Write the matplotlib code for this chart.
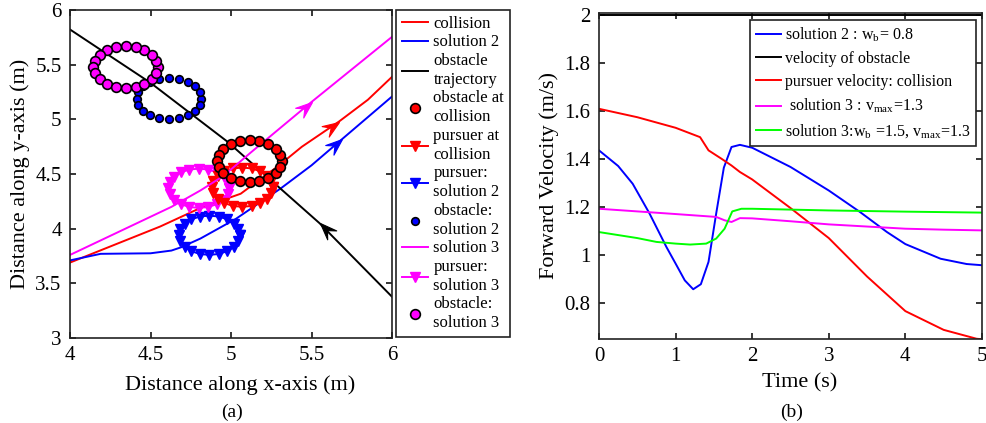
import matplotlib
matplotlib.use("Agg")
import matplotlib.pyplot as plt
from matplotlib.lines import Line2D
from matplotlib.markers import MarkerStyle
from matplotlib.path import Path
from matplotlib.transforms import Affine2D
import numpy as np

plt.rcParams['font.family'] = ['Liberation Serif', 'DejaVu Serif']
plt.rcParams['mathtext.fontset'] = 'stix'

# ---- (a) trajectories (points listed in direction of motion) ----
red_x = [4.0, 4.56, 4.81, 5.06, 5.29, 5.44, 5.67, 5.85, 6.0]
red_y = [3.69, 4.02, 4.19, 4.32, 4.57, 4.75, 4.98, 5.18, 5.39]
blue_x = [4.0, 4.19, 4.5, 4.63, 4.69, 4.81, 5.03, 5.31, 5.5, 5.69, 6.0]
blue_y = [3.71, 3.77, 3.775, 3.80, 3.83, 3.91, 4.09, 4.37, 4.58, 4.82, 5.21]
mag_x = [4.0, 4.63, 4.81, 4.95, 5.125, 5.5, 6.0]
mag_y = [3.76, 4.20, 4.35, 4.48, 4.70, 5.16, 5.756]
obs_x = [6.0, 5.55, 4.979, 4.5, 4.0]
obs_y = [3.377, 4.05, 4.795, 5.335, 5.823]

# index of the trajectory point where each arrow head sits
red_arrow = 6
blue_arrow = 9
mag_arrow = 5
obs_arrow = 1

# obstacle / pursuer bodies: centre x, centre y, radius x, radius y
obs_coll = (5.115, 4.62, 0.20, 0.19)
obs_sol2 = (4.615, 5.19, 0.20, 0.19)
obs_sol3 = (4.345, 5.48, 0.20, 0.19)
pur_coll = (5.07, 4.38, 0.19, 0.18)
pur_sol2 = (4.865, 3.94, 0.19, 0.18)
pur_sol3 = (4.80, 4.37, 0.19, 0.18)
n_ring = 20

# ---- (b) forward velocity ----
t_red = [0, 0.5, 1.0, 1.32, 1.43, 1.6, 1.73, 1.84, 2.0, 2.5, 3.0, 3.5, 4.0, 4.5, 4.93, 5.0]
v_red = [1.608, 1.573, 1.529, 1.49, 1.435, 1.40, 1.372, 1.345, 1.314, 1.195, 1.07, 0.91,
         0.766, 0.688, 0.651, 0.649]
t_blue = [0, 0.25, 0.44, 0.66, 0.88, 1.0, 1.12, 1.23, 1.33, 1.43, 1.53, 1.63, 1.73, 1.84,
          2.0, 2.5, 3.0, 3.41, 3.76, 4.0, 4.46, 4.8, 5.0]
v_blue = [1.435, 1.37, 1.296, 1.172, 1.033, 0.964, 0.894, 0.857, 0.878, 0.971, 1.172, 1.363,
          1.449, 1.458, 1.446, 1.366, 1.268, 1.178, 1.095, 1.045, 0.984, 0.962, 0.957]
t_mag = [0, 0.5, 1.0, 1.53, 1.64, 1.73, 1.84, 2.0, 2.5, 3.0, 3.5, 4.0, 4.5, 5.0]
v_mag = [1.192, 1.181, 1.170, 1.158, 1.144, 1.137, 1.153, 1.152, 1.140, 1.127, 1.118, 1.109,
         1.105, 1.102]
t_green = [0, 0.5, 0.75, 1.0, 1.19, 1.40, 1.53, 1.64, 1.74, 1.86, 2.0, 3.0, 4.0, 5.0]
v_green = [1.095, 1.07, 1.054, 1.047, 1.043, 1.047, 1.068, 1.109, 1.181, 1.192, 1.192, 1.185,
           1.18, 1.176]
t_obs = [0, 5]
v_obs = [2.0, 2.0]

magenta = '#ff00ff'
green = '#00ff00'
lw = 1.4

# barbed arrow head, tip at the origin pointing along +x
head = Path([(0, 0), (-1, 0.38), (-0.6, 0), (-1, -0.38), (0, 0)],
            [Path.MOVETO, Path.LINETO, Path.LINETO, Path.LINETO, Path.CLOSEPOLY])


def ring(body):
    cx, cy, rx, ry = body
    a = np.linspace(0, 2 * np.pi, n_ring + 1)
    return cx + rx * np.cos(a), cy + ry * np.sin(a)


def arrow(ax, xs, ys, i, color):
    # arrow head at point i, pointing along the path from point i-1 (screen angle)
    p0 = ax.transData.transform((xs[i - 1], ys[i - 1]))
    p1 = ax.transData.transform((xs[i], ys[i]))
    ang = np.degrees(np.arctan2(p1[1] - p0[1], p1[0] - p0[0]))
    m = MarkerStyle(head, transform=Affine2D().rotate_deg(ang))
    ax.plot([xs[i]], [ys[i]], ls='none', marker=m, ms=24, mfc=color, mec=color, mew=0.8)


def style(ax):
    for s in ax.spines.values():
        s.set_linewidth(1.2)
        s.set_color('#222222')
    ax.tick_params(direction='in', top=True, right=True, length=4, width=1.1,
                   labelsize=15, pad=6)


fig = plt.figure(figsize=(9.86, 4.23), dpi=100)

# ---------------- (a) ----------------
ax1 = fig.add_axes([0.071, 0.201, 0.3266, 0.775])
ax1.set_xlim(4, 6)
ax1.set_ylim(3, 6)
ax1.plot(red_x, red_y, color='red', lw=lw)
ax1.plot(blue_x, blue_y, color='blue', lw=lw)
ax1.plot(obs_x, obs_y, color='black', lw=lw)

rx, ry = ring(pur_sol2)
ax1.plot(rx, ry, color='blue', lw=lw, marker='v', ms=6.5, mec='blue')
rx, ry = ring(pur_sol3)
ax1.plot(rx, ry, color=magenta, lw=lw, marker='v', ms=6.5, mec=magenta)
rx, ry = ring(pur_coll)
ax1.plot(rx, ry, color='red', lw=lw, marker='v', ms=6.5, mec='red')
ax1.plot(mag_x, mag_y, color=magenta, lw=lw)

rx, ry = ring(obs_sol2)
ax1.plot(rx[:-1], ry[:-1], ls='none', marker='o', ms=5.5, mfc='blue', mec='black', mew=1.2)
rx, ry = ring(obs_sol3)
ax1.plot(rx[:-1], ry[:-1], ls='none', marker='o', ms=7, mfc=magenta, mec='black', mew=1.2)
rx, ry = ring(obs_coll)
ax1.plot(rx[:-1], ry[:-1], ls='none', marker='o', ms=7, mfc='red', mec='black', mew=1.2)

arrow(ax1, red_x, red_y, red_arrow, 'red')
arrow(ax1, blue_x, blue_y, blue_arrow, 'blue')
arrow(ax1, mag_x, mag_y, mag_arrow, magenta)
arrow(ax1, obs_x, obs_y, obs_arrow, 'black')

ax1.set_xticks([4, 4.5, 5, 5.5, 6])
ax1.set_xticklabels(['4', '4.5', '5', '5.5', '6'])
ax1.set_yticks([3, 3.5, 4, 4.5, 5, 5.5, 6])
ax1.set_yticklabels(['3', '3.5', '4', '4.5', '5', '5.5', '6'])
ax1.set_xlabel('Distance along x-axis (m)', fontsize=16)
ax1.xaxis.set_label_coords(0.527, -0.115)
ax1.set_ylabel('Distance along y-axis (m)', fontsize=16, labelpad=4)
style(ax1)

handles1 = [
    Line2D([], [], color='red', lw=lw),
    Line2D([], [], color='blue', lw=lw),
    Line2D([], [], color='black', lw=lw),
    Line2D([], [], ls='none', marker='o', ms=7, mfc='red', mec='black', mew=1.2),
    Line2D([], [], color='red', lw=lw, marker='v', ms=6.5),
    Line2D([], [], color='blue', lw=lw, marker='v', ms=6.5),
    Line2D([], [], ls='none', marker='o', ms=5.5, mfc='blue', mec='black', mew=1.2),
    Line2D([], [], color=magenta, lw=lw),
    Line2D([], [], color=magenta, lw=lw, marker='v', ms=6.5),
    Line2D([], [], ls='none', marker='o', ms=7, mfc=magenta, mec='black', mew=1.2),
]
labels1 = ['collision', 'solution 2', 'obstacle\ntrajectory', 'obstacle at\ncollision',
           'pursuer at\ncollision', 'pursuer:\nsolution 2', 'obstacle:\nsolution 2',
           'solution 3', 'pursuer:\nsolution 3', 'obstacle:\nsolution 3']
leg1 = ax1.legend(handles1, labels1, loc='upper left', bbox_to_anchor=(1.012, 1.0),
                  borderaxespad=0, fontsize=12, numpoints=1, fancybox=False,
                  framealpha=1, edgecolor='#222222', handlelength=1.6,
                  handletextpad=0.3, labelspacing=0.15, borderpad=0.35)
leg1.get_frame().set_linewidth(1.2)
for t in leg1.get_texts():
    t.set_linespacing(1.25)

fig.text(0.235, 0.015, '(a)', fontsize=14, ha='center')

# ---------------- (b) ----------------
ax2 = fig.add_axes([0.6075, 0.1986, 0.3884, 0.7714])
ax2.plot(t_blue, v_blue, color='blue', lw=lw, label='solution 2 : w$_\\mathregular{b}$= 0.8')
ax2.plot(t_obs, v_obs, color='black', lw=lw, label='velocity of obstacle')
ax2.plot(t_red, v_red, color='red', lw=lw, label='pursuer velocity: collision')
ax2.plot(t_mag, v_mag, color=magenta, lw=lw, label=' solution 3 : v$_\\mathregular{max}$=1.3')
ax2.plot(t_green, v_green, color=green, lw=lw,
         label='solution 3:w$_\\mathregular{b}$ =1.5, v$_\\mathregular{max}$=1.3')
ax2.set_xlim(0, 5)
ax2.set_ylim(0.65, 2.008)
ax2.set_xticks([0, 1, 2, 3, 4, 5])
ax2.set_yticks([0.8, 1.0, 1.2, 1.4, 1.6, 1.8, 2.0])
ax2.set_yticklabels(['0.8', '1', '1.2', '1.4', '1.6', '1.8', '2'])
ax2.set_xlabel('Time (s)', fontsize=16)
ax2.xaxis.set_label_coords(0.525, -0.105)
ax2.set_ylabel('Forward Velocity (m/s)', fontsize=16, labelpad=4)
style(ax2)
leg2 = ax2.legend(loc='upper right', bbox_to_anchor=(0.984, 0.978), borderaxespad=0,
                  fontsize=11.5, fancybox=False, framealpha=1, edgecolor='#222222',
                  handlelength=1.6, handletextpad=0.2, labelspacing=0.45, borderpad=0.35)
leg2.get_frame().set_linewidth(1.2)

fig.text(0.803, 0.015, '(b)', fontsize=14, ha='center')

fig.savefig('out.png', dpi=100)
